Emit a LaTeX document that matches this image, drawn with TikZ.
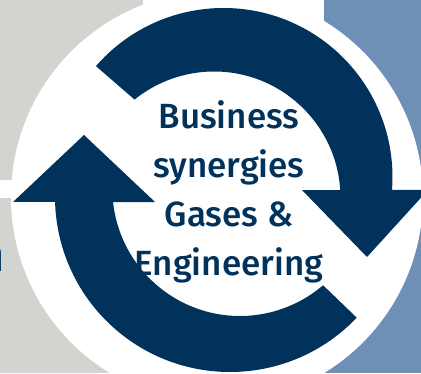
\documentclass[tikz,border=0pt]{standalone}
\usepackage{fontspec}
\setmainfont{Fira Sans}
\newfontfamily\ringfont{Fira Sans Medium}
\usetikzlibrary{calc}
\definecolor{ringnavy}{RGB}{0,50,92}
\definecolor{panelgrey}{RGB}{210,212,207}
\definecolor{panelblue}{RGB}{110,143,182}
\tikzset{
	arrowfill/.style={fill=ringnavy},
	ringtext/.style={text=ringnavy, align=center, inner sep=0pt,
			font=\ringfont\fontsize{35}{49}\selectfont}
}

\begin{document}
\begin{tikzpicture}[x=1pt, y=1pt]
	\useasboundingbox (0,0) rectangle (421,373);
	% panels behind the ring
	\fill[panelgrey] (0,193) rectangle (143,373);
	\fill[panelgrey] (0,0) rectangle (200,175);
	\fill[panelblue] (324,0) rectangle (421,373);
	\node[anchor=base east, text=ringnavy, inner sep=0pt,
		font=\ringfont\fontsize{47}{47}\selectfont] (prev) at (5.5,102) {n};

	\coordinate (ring) at (217,176);
	\fill[white] (ring) circle[radius=206];

	\coordinate (topout) at (223.5,196);
	\coordinate (topin) at (214,175);
	\coordinate (botout) at (230,176);
	\coordinate (botin) at (240,184.7);

	\fill[arrowfill] ($(topout)+(139:169)$) arc[start angle=139, end angle=-4.4, radius=169]
		-- (428,183) -- (367,116) -- (302,183)
		-- ($(topin)+(3.6:126.5)$) arc[start angle=3.6, end angle=128.9, radius=126.5] -- cycle;
	\fill[arrowfill] ($(botout)+(-43.6:175)$) arc[start angle=-43.6, end angle=-178.4, radius=175]
		-- (13,171) -- (84,238) -- (155,171)
		-- ($(botin)+(186.2:127.7)$) arc[start angle=186.2, end angle=310.6, radius=127.7] -- cycle;

	\node[ringtext] (synergy) at (229,181) {Business\\synergies\\Gases \&\\Engineering};
\end{tikzpicture}
\end{document}
